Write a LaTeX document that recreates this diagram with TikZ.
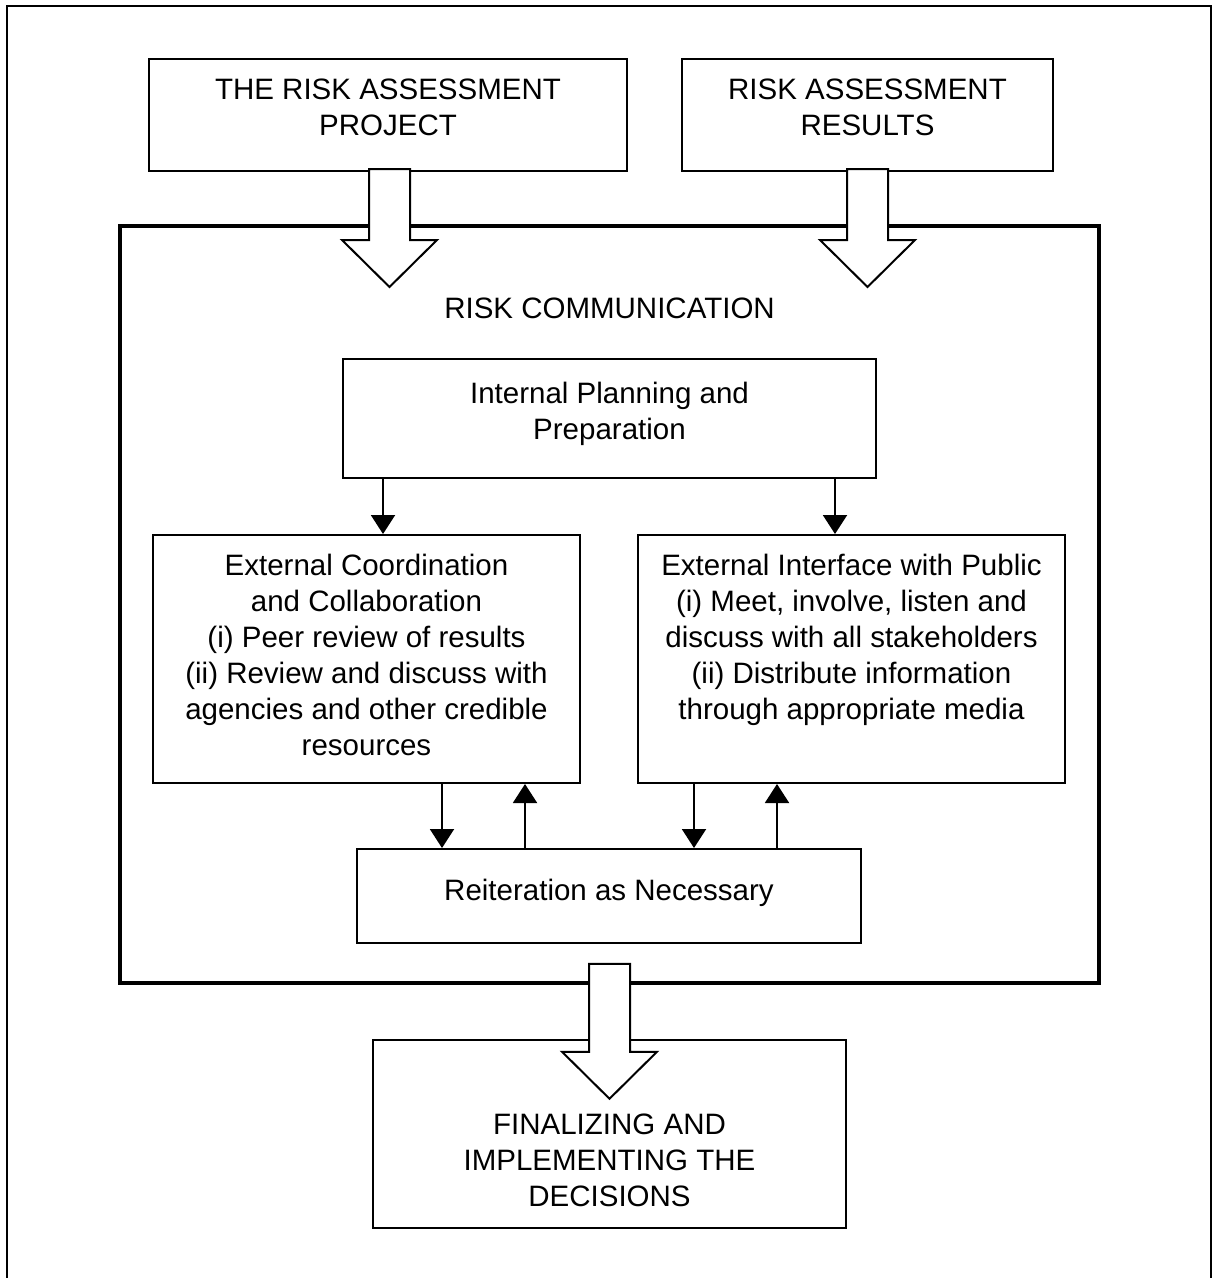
\documentclass[tikz,border=0pt]{standalone}
\usepackage{fontspec}
\setmainfont{Liberation Sans}
\usetikzlibrary{calc,arrows.meta}

\tikzset{
  box/.style={draw=black, line width=2pt, fill=white, rectangle, inner sep=0pt},
  bigbox/.style={draw=black, line width=3.5pt, rectangle, inner sep=0pt},
  txt/.style={align=center, inner sep=0pt, font=\fontsize{29.5}{36}\selectfont},
  conn/.style={line width=2pt, -{Triangle[width=24pt,length=19pt]}},
  blockarrow/.style={draw=black, line width=2pt, fill=white, line join=miter},
}

% block arrow: #1 = top-centre point, #2 = shaft length
\newcommand\blockarr[2]{%
  \draw[blockarrow] ($(#1)+(-20.5,0)$) -- ++(0,#2) -- ++(-27,0) -- ++(47.5,47)
    -- ++(47.5,-47) -- ++(-27,0) -- ++(0,-#2) -- cycle;}

\begin{document}
\begin{tikzpicture}[x=1pt,y=-1pt]
\useasboundingbox (0,0) rectangle (1213,1278);

% outer frame
\draw[line width=2pt] (7,6) rectangle (1211,1300);

% top boxes
\node[box, minimum width=478pt, minimum height=112pt] (proj) at (388,115) {};
\node[txt] (projt) at (388,107) {THE RISK ASSESSMENT\\PROJECT};
\node[box, minimum width=371pt, minimum height=112pt] (res) at (867.5,115) {};
\node[txt] (rest) at (867.5,107) {RISK ASSESSMENT\\RESULTS};

% risk communication frame
\node[bigbox, minimum width=979pt, minimum height=757pt] (comm) at (609.5,604.5) {};
\node[txt] (commt) at (609.5,308) {RISK COMMUNICATION};

% inner boxes
\node[box, minimum width=533pt, minimum height=119pt] (plan) at (609.5,418.5) {};
\node[txt] (plant) at (609.5,414) {Internal Planning and\\Preparation};

\node[box, minimum width=427pt, minimum height=248pt] (coord) at (366.5,659) {};
\node[txt, anchor=north] (coordt) at (366.5,554) {External Coordination\\and Collaboration\\(i) Peer review of results\\(ii) Review and discuss with\\agencies and other credible\\resources};

\node[box, minimum width=427pt, minimum height=248pt] (pub) at (851.5,659) {};
\node[txt, anchor=north] (pubt) at (851.5,554) {External Interface with Public\\(i) Meet, involve, listen and\\discuss with all stakeholders\\(ii) Distribute information\\through appropriate media};

\node[box, minimum width=504pt, minimum height=94pt] (reit) at (609,896) {};
\node[txt] (reitt) at (609,893) {Reiteration as Necessary};

% final box
\node[box, minimum width=473pt, minimum height=188pt] (fin) at (609.5,1134) {};
\node[txt] (fint) at (609.5,1160) {FINALIZING AND\\IMPLEMENTING THE\\DECISIONS};

% connectors inside the frame
\draw[conn] ([xshift=-226.5pt]plan.south) -- ([xshift=-226.5pt]plan.south |- coord.north);
\draw[conn] ([xshift=225.5pt]plan.south) -- ([xshift=225.5pt]plan.south |- pub.north);

\draw[conn] ([xshift=75.5pt]coord.south) -- ([xshift=75.5pt]coord.south |- reit.north);
\draw[conn] ([xshift=158.5pt]coord.south |- reit.north) -- ([xshift=158.5pt]coord.south);
\draw[conn] ([xshift=-157.5pt]pub.south) -- ([xshift=-157.5pt]pub.south |- reit.north);
\draw[conn] ([xshift=-74.5pt]pub.south |- reit.north) -- ([xshift=-74.5pt]pub.south);

% block arrows
\coordinate (a1) at ($(proj.south)+(1.5,-3)$);
\coordinate (a2) at ($(res.south)+(0,-3)$);
\coordinate (a3) at ($(comm.south)+(0,-21)$);
\blockarr{a1}{71}
\blockarr{a2}{71}
\blockarr{a3}{88}
\end{tikzpicture}
\end{document}
